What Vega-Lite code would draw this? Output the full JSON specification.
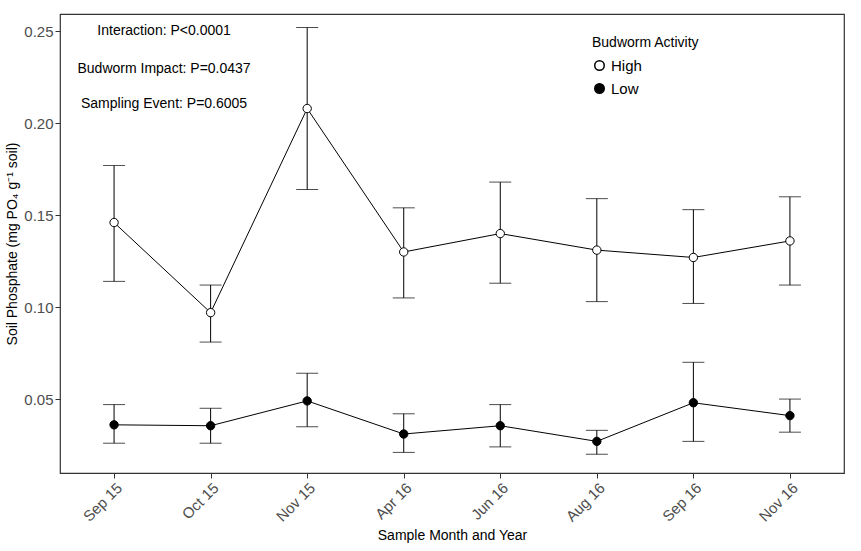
{
"$schema":"https://vega.github.io/schema/vega-lite/v6.json",
"width":861,"height":551,"autosize":{"type":"fit","contains":"padding"},
"padding":{"top":14,"left":5,"right":17,"bottom":8},
"background":"white",
"config":{"font":"Liberation Sans","view":{"stroke":"#333","strokeWidth":1.2},
"axis":{"grid":false,"domain":false,"tickColor":"#333","labelColor":"#4d4d4d","labelFontSize":15,"titleFontSize":14,"titleFontWeight":"normal","titleColor":"black","tickSize":5}},
"data":{"values":[
{"m":"Sep 15","g":"High","v":0.146,"lo":0.114,"hi":0.177},
{"m":"Oct 15","g":"High","v":0.097,"lo":0.081,"hi":0.112},
{"m":"Nov 15","g":"High","v":0.208,"lo":0.164,"hi":0.252},
{"m":"Apr 16","g":"High","v":0.130,"lo":0.105,"hi":0.154},
{"m":"Jun 16","g":"High","v":0.140,"lo":0.113,"hi":0.168},
{"m":"Aug 16","g":"High","v":0.131,"lo":0.103,"hi":0.159},
{"m":"Sep 16","g":"High","v":0.127,"lo":0.102,"hi":0.153},
{"m":"Nov 16","g":"High","v":0.136,"lo":0.112,"hi":0.160},
{"m":"Sep 15","g":"Low","v":0.036,"lo":0.026,"hi":0.047},
{"m":"Oct 15","g":"Low","v":0.0355,"lo":0.026,"hi":0.045},
{"m":"Nov 15","g":"Low","v":0.049,"lo":0.035,"hi":0.064},
{"m":"Apr 16","g":"Low","v":0.031,"lo":0.021,"hi":0.042},
{"m":"Jun 16","g":"Low","v":0.0355,"lo":0.024,"hi":0.047},
{"m":"Aug 16","g":"Low","v":0.027,"lo":0.020,"hi":0.033},
{"m":"Sep 16","g":"Low","v":0.048,"lo":0.027,"hi":0.070},
{"m":"Nov 16","g":"Low","v":0.041,"lo":0.032,"hi":0.050}
]},
"encoding":{
"x":{"field":"m","type":"ordinal","sort":null,"scale":{"type":"point","padding":0.56},"title":"Sample Month and Year","axis":{"labelAngle":-45,"labelAlign":"right","labelBaseline":"top"}},
"y":{"field":"v","type":"quantitative","scale":{"domain":[0.0098,0.2594],"nice":false,"zero":false},"title":"Soil Phosphate (mg PO₄ g⁻¹ soil)","axis":{"values":[0.05,0.1,0.15,0.2,0.25],"format":".2f"}}
},
"layer":[
{"mark":{"type":"rule","color":"black"},"encoding":{"y":{"field":"lo","type":"quantitative"},"y2":{"field":"hi"}}},
{"mark":{"type":"tick","color":"black","thickness":1,"size":22,"orient":"horizontal"},"encoding":{"y":{"field":"lo","type":"quantitative"}}},
{"mark":{"type":"tick","color":"black","thickness":1,"size":22,"orient":"horizontal"},"encoding":{"y":{"field":"hi","type":"quantitative"}}},
{"mark":{"type":"line","color":"black","strokeWidth":1},"encoding":{"detail":{"field":"g"}}},
{"mark":{"type":"point","filled":true,"size":70,"stroke":"black","strokeWidth":1,"opacity":1},
 "encoding":{"fill":{"field":"g","type":"nominal","scale":{"domain":["High","Low"],"range":["white","black"]},
 "legend":{"title":"Budworm Activity","orient":"none","legendX":532,"legendY":22,"titleFontSize":14,"titleFontWeight":"normal","labelFontSize":15,"symbolStrokeColor":"black","symbolType":"circle","symbolSize":90,"rowPadding":6,"titlePadding":8}}}},
{"data":{"values":[{"t":"Interaction: P<0.0001","yy":0.25},{"t":"Budworm Impact: P=0.0437","yy":0.2295},{"t":"Sampling Event: P=0.6005","yy":0.2105}]},
 "mark":{"type":"text","fontSize":14,"dx":50,"align":"center"},
 "encoding":{"x":{"datum":"Sep 15"},"y":{"field":"yy","type":"quantitative"},"text":{"field":"t"}}}
]
}
